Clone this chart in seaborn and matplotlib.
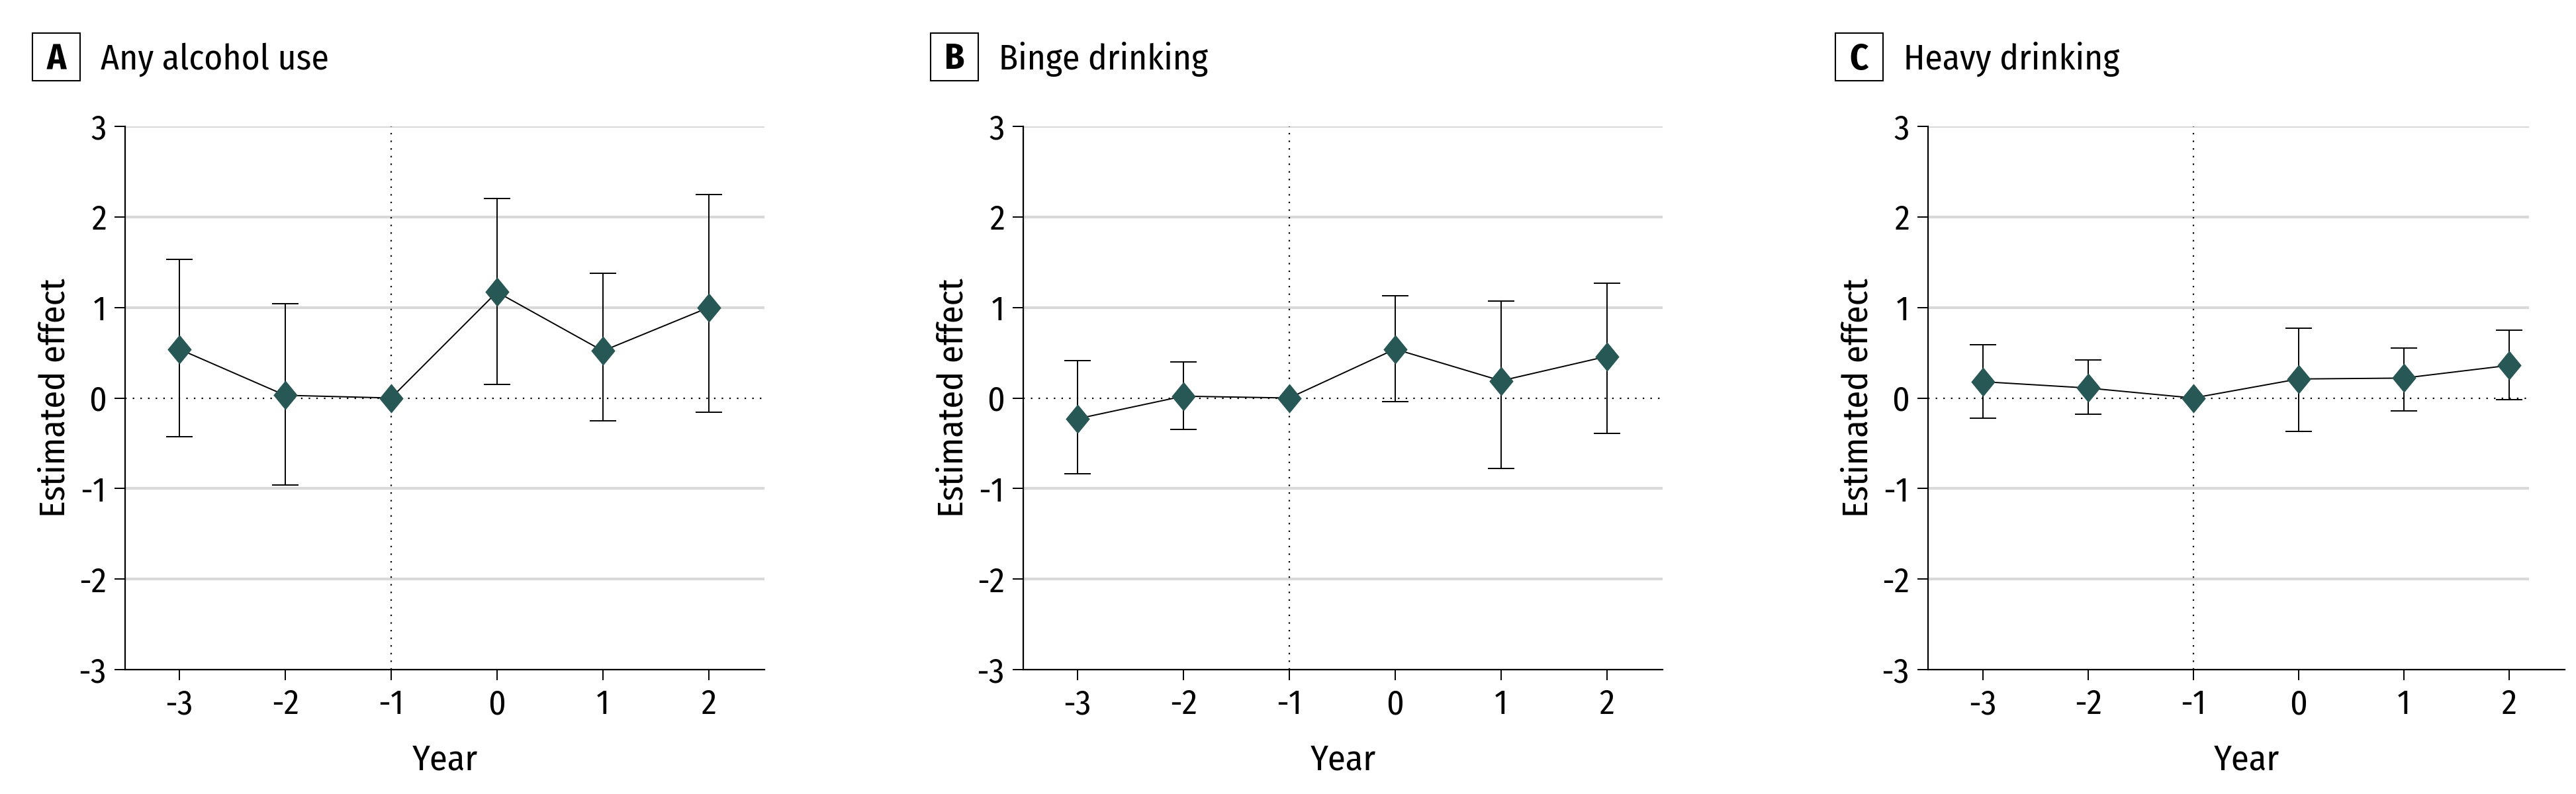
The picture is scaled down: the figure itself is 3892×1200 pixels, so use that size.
import numpy as np
import pandas as pd
import matplotlib
matplotlib.use("Agg")
import matplotlib.pyplot as plt
from matplotlib import font_manager as fm
from matplotlib.patches import Rectangle
import seaborn as sns

# ---------------- data ----------------
years = [-3, -2, -1, 0, 1, 2]
year_labels = ["-3", "-2", "-1", "0", "1", "2"]
y_ticks = [-3, -2, -1, 0, 1, 2, 3]
y_tick_labels = ["-3", "-2", "-1", "0", "1", "2", "3"]

panel_letters = ["A", "B", "C"]
panel_titles = ["Any alcohol use", "Binge drinking", "Heavy drinking"]

any_est = [0.54, 0.03, 0.0, 1.17, 0.52, 1.00]
any_lo = [-0.43, -0.96, np.nan, 0.15, -0.25, -0.16]
any_hi = [1.53, 1.04, np.nan, 2.20, 1.38, 2.25]

binge_est = [-0.23, 0.02, 0.0, 0.54, 0.19, 0.46]
binge_lo = [-0.84, -0.35, np.nan, -0.04, -0.78, -0.39]
binge_hi = [0.41, 0.40, np.nan, 1.13, 1.07, 1.27]

heavy_est = [0.18, 0.11, 0.0, 0.21, 0.22, 0.36]
heavy_lo = [-0.22, -0.18, np.nan, -0.37, -0.14, -0.02]
heavy_hi = [0.59, 0.42, np.nan, 0.77, 0.55, 0.75]

series = [(any_est, any_lo, any_hi), (binge_est, binge_lo, binge_hi), (heavy_est, heavy_lo, heavy_hi)]

# ---------------- style ----------------
sns.set_theme(style="white")
names = {f.name for f in fm.fontManager.ttflist}
fam = "DejaVu Sans"
for cand in ["Fira Sans Condensed", "Roboto Condensed", "PT Sans Narrow", "Liberation Sans Narrow"]:
    if cand in names:
        fam = cand
        break
plt.rcParams["font.family"] = [fam, "DejaVu Sans"]
plt.rcParams["axes.unicode_minus"] = False

TEAL = "#285855"
GRID = "#d9d9d9"

W, H = 3892, 1200
fig = plt.figure(figsize=(W / 100, H / 100), dpi=100)

ax_lefts = [189, 1546, 2913]
ax_rights = [1155, 2512, 3875]
ax_top, ax_bottom = 191, 1012
xlims = [(-3.51, 2.525), (-3.51, 2.525), (-3.52, 2.53)]
grid_end = [None, None, 2.19]

diamond = [(0, 1), (0.82, 0), (0, -1), (-0.82, 0), (0, 1)]

TICK_FS = 37
LABEL_FS = 39
TITLE_FS = 38.5

for i in range(3):
    est, lo, hi = series[i]
    l, r = ax_lefts[i], ax_rights[i]
    ax = fig.add_axes([l / W, 1 - ax_bottom / H, (r - l) / W, (ax_bottom - ax_top) / H])
    ax.set_facecolor("white")
    x0, x1 = xlims[i]
    ax.set_xlim(x0, x1)
    ax.set_ylim(-3, 3)
    gx1 = grid_end[i] if grid_end[i] is not None else x1

    # gridlines
    for yv in y_ticks:
        if yv in (-3, 0):
            continue
        ax.hlines(yv, x0, gx1, color=GRID, lw=3.0, zorder=0)
    # reference dotted lines
    ax.hlines(0, x0, gx1, color="black", lw=1.6, linestyles=[(0, (1, 4.2))], zorder=1)
    ax.axvline(-1, color="black", lw=1.6, linestyle=(0, (1, 4.2)), zorder=1)

    df = pd.DataFrame({"year": years, "est": est, "lo": lo, "hi": hi})
    m = df.dropna()
    ax.errorbar(m["year"], m["est"], yerr=[m["est"] - m["lo"], m["hi"] - m["est"]],
                fmt="none", ecolor="black", elinewidth=1.4, capsize=14.4, capthick=1.4, zorder=2)
    sns.lineplot(data=df, x="year", y="est", ax=ax, color="black", lw=1.4,
                 marker=diamond, markersize=32, markerfacecolor=TEAL,
                 markeredgecolor=TEAL, markeredgewidth=0, zorder=3)

    ax.set_xticks(years)
    ax.set_xticklabels(year_labels)
    ax.set_yticks(y_ticks)
    ax.set_yticklabels(y_tick_labels)
    for s in ["top", "right"]:
        ax.spines[s].set_visible(False)
    for s in ["left", "bottom"]:
        ax.spines[s].set_color("black")
        ax.spines[s].set_linewidth(1.6)
    ax.tick_params(axis="both", which="major", direction="out", length=11.5, width=1.4,
                   color="black", labelsize=TICK_FS, labelcolor="black", left=True, bottom=True)
    ax.tick_params(axis="x", pad=9)
    ax.tick_params(axis="y", pad=9)
    ax.set_xlabel("Year", fontsize=LABEL_FS, color="black", labelpad=24)
    ax.set_ylabel("Estimated effect", fontsize=LABEL_FS, color="black", labelpad=7)
    ax.grid(False)

    # panel header: boxed letter + title
    bx = l - 140
    fig.add_artist(Rectangle((bx / W, 1 - 122 / H), 72 / W, 72 / H, transform=fig.transFigure,
                             facecolor="white", edgecolor="black", lw=1.5))
    fig.text((bx + 36) / W, 1 - 104.5 / H, panel_letters[i], ha="center", va="baseline",
             fontsize=39, fontweight="bold", color="black")
    fig.text((l - 37) / W, 1 - 104.5 / H, panel_titles[i], ha="left", va="baseline",
             fontsize=TITLE_FS, color="black")

fig.savefig("out.png", dpi=100, facecolor="white")
